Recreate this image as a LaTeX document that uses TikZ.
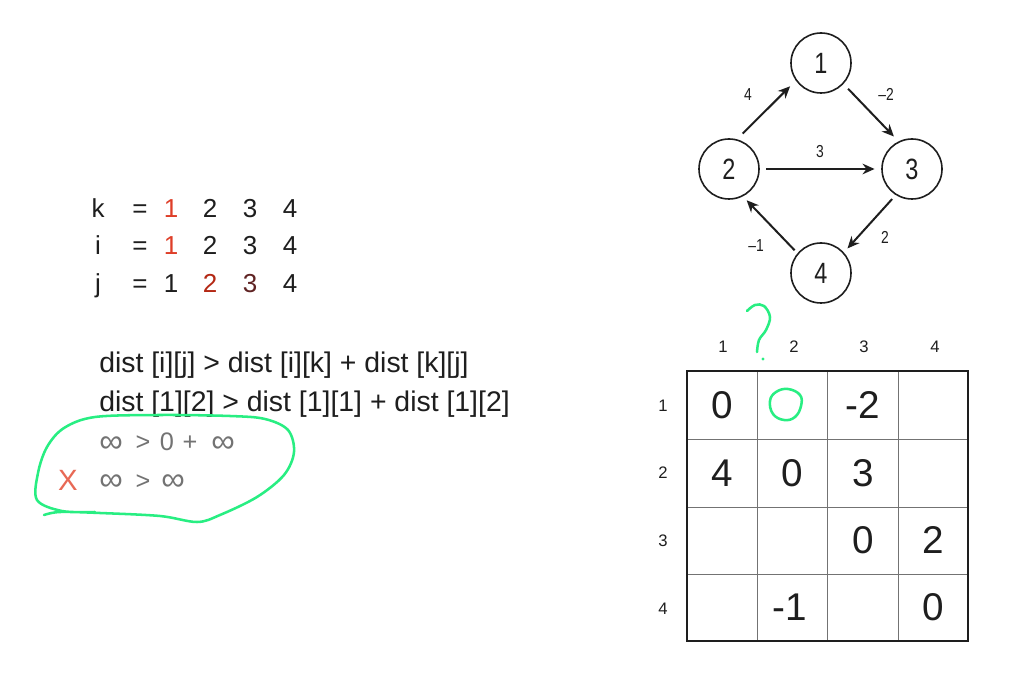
\documentclass[tikz,border=0pt]{standalone}
\usepackage{graphicx}
\usepackage{fontspec}
\setmainfont{Liberation Sans}
\usetikzlibrary{arrows.meta}
\definecolor{hand}{RGB}{40,238,130}
\definecolor{hot}{RGB}{222,62,40}
\definecolor{darkred}{RGB}{180,40,20}
\definecolor{brown}{RGB}{95,35,35}
\definecolor{xred}{RGB}{232,105,85}
\definecolor{ink}{RGB}{30,30,30}
\definecolor{soft}{RGB}{115,115,115}
\newcommand\cnd[1]{\scalebox{0.8}[1]{#1}}
\newcommand\inft{\raisebox{-1pt}{\scalebox{1.3}{∞}}}
\tikzset{
  vert/.style={circle, draw=ink, line width=1.2pt, minimum size=45pt, inner sep=0pt, font=\fontsize{22}{22}\selectfont, text=ink},
  edge/.style={-{Stealth[length=9pt,width=8pt]}, line width=1.5pt, draw=ink, shorten >=4pt, shorten <=4pt},
  elab/.style={font=\fontsize{13}{13}\selectfont, text=ink},
  lft/.style={anchor=base, font=\fontsize{19.5}{19.5}\selectfont, text=ink, inner sep=0pt},
  eqn/.style={anchor=base west, font=\fontsize{21.3}{21.3}\selectfont, text=ink, inner sep=0pt},
  gry/.style={anchor=base, font=\fontsize{19}{19}\selectfont, text=soft, inner sep=0pt},
  cell/.style={font=\fontsize{29}{29}\selectfont, text=ink, inner sep=0pt},
  hdr/.style={font=\fontsize{12.5}{12.5}\selectfont, text=ink, inner sep=0pt},
  pen/.style={draw=hand, line width=1.9pt, line cap=round, line join=round}
}
\begin{document}
\begin{tikzpicture}[x=0.75pt,y=-0.75pt]
\useasboundingbox[fill=white] (0,0) rectangle (1017,680);

% graph
\node[vert] (n1) at (821,63) {\cnd{1}};
\node[vert] (n2) at (729,169) {\cnd{2}};
\node[vert] (n3) at (912,169) {\cnd{3}};
\node[vert] (n4) at (821,273) {\cnd{4}};
\draw[edge, shorten <=6pt, shorten >=6pt] (n2.75) -- (n1.215);
\draw[edge, shorten <=5pt, shorten >=5pt] (n1.317) -- (n3.116);
\draw[edge, shorten <=5pt, shorten >=5pt] (n2.east) -- (n3.west);
\draw[edge, shorten <=4pt, shorten >=4pt] (n3.238) -- (n4.42);
\draw[edge, shorten <=3pt, shorten >=4pt] (n4.140) -- (n2.297);
\node[elab] (w21) at (748,95) {\cnd{4}};
\node[elab] (w13) at (886,94) {\cnd{–2}};
\node[elab] (w23) at (820,152) {\cnd{3}};
\node[elab] (w34) at (885,237) {\cnd{2}};
\node[elab] (w42) at (756,246) {\cnd{–1}};

% k i j
\node[lft] (k0) at (98,218) {k};
\node[lft] (k1) at (140,218) {=};
\node[lft,text=hot] (k2) at (171,218) {1};
\node[lft] (k3) at (210,218) {2};
\node[lft] (k4) at (250,218) {3};
\node[lft] (k5) at (290,218) {4};
\node[lft] (i0) at (98,255) {i};
\node[lft] (i1) at (140,255) {=};
\node[lft,text=hot] (i2) at (171,255) {1};
\node[lft] (i3) at (210,255) {2};
\node[lft] (i4) at (250,255) {3};
\node[lft] (i5) at (290,255) {4};
\node[lft] (j0) at (98,293) {j};
\node[lft] (j1) at (140,293) {=};
\node[lft] (j2) at (171,293) {1};
\node[lft,text=darkred] (j3) at (210,293) {2};
\node[lft,text=brown] (j4) at (250,293) {3};
\node[lft] (j5) at (290,293) {4};

% equations
\node[eqn] (e1) at (99,373) {dist [i][j] > dist [i][k] + dist [k][j]};
\node[eqn] (e2) at (99,412) {dist [1][2] > dist [1][1] + dist [1][2]};
\node[gry] (g1) at (111,451) {\inft};
\node[gry] (g2) at (143,451) {>};
\node[gry] (g3) at (167,451) {0};
\node[gry] (g4) at (190,451) {+};
\node[gry] (g5) at (223,451) {\inft};
\node[gry] (h1) at (111,489) {\inft};
\node[gry] (h2) at (143,489) {>};
\node[gry] (h3) at (173,489) {\inft};
\node[anchor=base, font=\fontsize{22}{22}\selectfont, text=xred, inner sep=0pt] (xx) at (68,490) {X};

% table
\foreach \x in {757,827.5,898} \draw[line width=0.6pt, draw=black!55] (\x,371) -- (\x,641);
\foreach \y in {439,507,574} \draw[line width=0.6pt, draw=black!55] (687,\y) -- (968,\y);
\draw[line width=1.5pt, draw=ink] (687,371) rectangle (968,641);
\node[hdr] (c1) at (723,347) {1};
\node[hdr] (c2) at (794,347) {2};
\node[hdr] (c3) at (864,347) {3};
\node[hdr] (c4) at (935,347) {4};
\node[hdr] (r1) at (663,406) {1};
\node[hdr] (r2) at (663,473) {2};
\node[hdr] (r3) at (663,541) {3};
\node[hdr] (r4) at (663,609) {4};
\node[cell] (m11) at (722,405) {0};
\node[cell] (m13) at (863,405) {-2};
\node[cell] (m21) at (722,473) {4};
\node[cell] (m22) at (792,473) {0};
\node[cell] (m23) at (863,473) {3};
\node[cell] (m33) at (863,540) {0};
\node[cell] (m34) at (933,540) {2};
\node[cell] (m42) at (790,607) {-1};
\node[cell] (m44) at (933,607) {0};

% hand drawing
\draw[pen] plot[smooth, tension=0.55] coordinates {(44,515) (60,512) (100,513) (160,516) (197,522) (220,515) (257,497) (284,475) (294,452) (288,430) (265,419) (230,416) (160,415) (95,417) (64,428) (47,447) (38,473) (37,500) (62,511) (95,512)};
\draw[pen] plot[smooth, tension=0.6] coordinates {(747,311) (755,305) (764,306) (770,317) (766,330) (759,340) (757,352)};
\fill[hand] (763,359) circle (1.6);
\draw[pen] plot[smooth cycle, tension=0.7] coordinates {(788,389) (800,395) (801,406) (795,417) (784,420) (773,414) (770,401) (776,392)};
\end{tikzpicture}
\end{document}
